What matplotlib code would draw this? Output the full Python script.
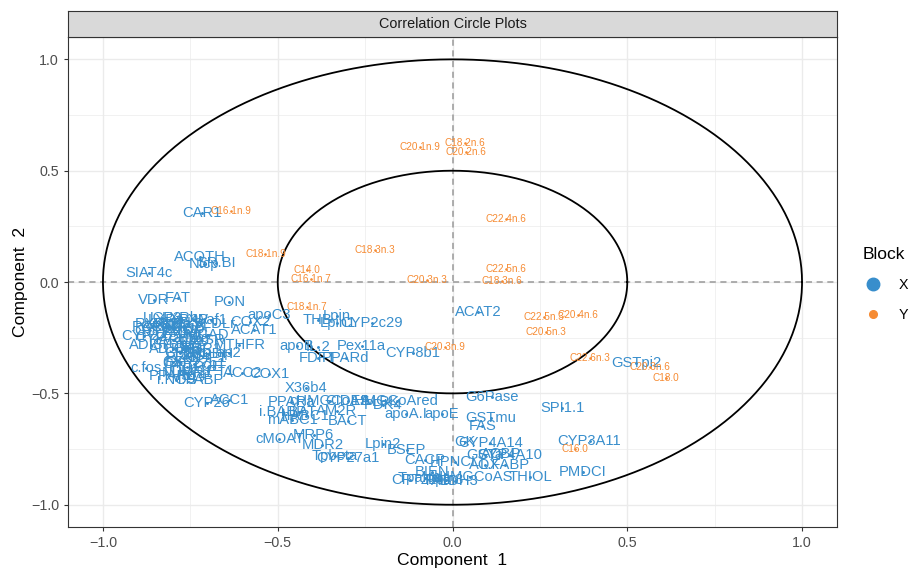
import numpy as np
import matplotlib.pyplot as plt
from matplotlib.lines import Line2D

plt.rcParams["font.family"] = ["Liberation Sans", "DejaVu Sans"]

# block X: gene expression variables (component 1, component 2)
genes = ["X36b4", "ACAT1", "ACAT2", "ACBP", "ACC1", "ACC2", "ACOTH", "ADISP", "ADSS1", "ALDH3",
         "AM2R", "AOX", "BACT", "BIEN", "BSEP", "Bcl.3", "C16SR", "CACP", "CAR1", "CBS",
         "CIDEA", "COX1", "COX2", "CPT2", "CYP24", "CYP26", "CYP27a1", "CYP27b1", "CYP2b10", "CYP2b13",
         "CYP2c29", "CYP3A11", "CYP4A10", "CYP4A14", "CYP7a", "CYP8b1", "FAS", "FAT", "FDFT", "FXR",
         "G6PDH", "G6Pase", "GK", "GS", "GSTa", "GSTmu", "GSTpi2", "HMGCoAred", "HPNCL", "IL.2",
         "L.FABP", "LCE", "LDLr", "LPK", "LPL", "LXRa", "LXRb", "Lpin", "Lpin1", "Lpin2",
         "Lpin3", "M.CPT1", "MCAD", "MDR1", "MDR2", "MRP6", "MS", "MTHFR", "NGFiB", "NURR1",
         "Ntcp", "OCTN2", "PAL", "PDK4", "PECI", "PLTP", "PMDCI", "PON", "PPARa", "PPARd",
         "PPARg", "PXR", "Pex11a", "RARa", "RARb2", "RXRa", "RXRb2", "RXRg1", "S14", "SHP1",
         "SIAT4c", "SPI1.1", "SR.BI", "THB", "THIOL", "TRa", "TRb", "Tpalpha", "Tpbeta", "UCP2",
         "UCP3", "VDR", "VLDLr", "Waf1", "ap2", "apoA.I", "apoB", "apoC3", "apoE", "c.fos",
         "cHMGCoAS", "cMOAT", "eif2g", "hABC1", "i.BABP", "i.BAT", "i.FABP", "i.NOS", "mABC1", "mHMGCoAS"]
genes_c1 = [-0.418, -0.567, 0.073, 0.140, -0.638, -0.601, -0.722, -0.862, -0.800, 0.007,
            -0.331, 0.093, -0.300, -0.059, -0.131, -0.760, -0.720, -0.079, -0.716, -0.780,
            -0.300, -0.524, -0.578, -0.122, -0.882, -0.702, -0.300, -0.740, -0.800, -0.820,
            -0.231, 0.392, 0.165, 0.108, -0.840, -0.113, 0.085, -0.785, -0.386, -0.780,
            -0.700, 0.113, 0.036, -0.800, 0.093, 0.110, 0.526, -0.160, 0.007, -0.386,
            0.151, -0.700, -0.780, -0.190, -0.740, -0.820, -0.780, -0.331, -0.329, -0.199,
            -0.020, -0.700, -0.700, -0.720, -0.372, -0.397, -0.740, -0.610, -0.770, -0.760,
            -0.710, -0.820, -0.040, -0.200, -0.770, -0.760, 0.372, -0.638, -0.461, -0.305,
            -0.800, -0.740, -0.260, -0.860, -0.800, -0.800, -0.840, -0.760, -0.740, -0.700,
            -0.868, 0.314, -0.676, -0.386, 0.222, -0.760, -0.730, -0.079, -0.337, -0.770,
            -0.830, -0.854, -0.680, -0.690, -0.640, -0.133, -0.446, -0.524, -0.030, -0.876,
            -0.351, -0.495, -0.740, -0.420, -0.486, -0.440, -0.720, -0.790, -0.458, 0.050]
genes_c2 = [-0.475, -0.215, -0.135, -0.770, -0.529, -0.410, 0.112, -0.283, -0.300, -0.892,
            -0.578, -0.821, -0.625, -0.852, -0.753, -0.190, -0.260, -0.798, 0.309, -0.320,
            -0.534, -0.413, -0.179, -0.888, -0.242, -0.543, -0.789, -0.370, -0.210, -0.220,
            -0.184, -0.713, -0.776, -0.722, -0.250, -0.318, -0.646, -0.072, -0.341, -0.360,
            -0.323, -0.516, -0.717, -0.360, -0.776, -0.610, -0.363, -0.534, -0.807, -0.291,
            -0.821, -0.380, -0.400, -0.540, -0.270, -0.170, -0.160, -0.152, -0.184, -0.726,
            -0.890, -0.400, -0.240, -0.300, -0.731, -0.686, -0.330, -0.283, -0.200, -0.410,
            0.081, -0.200, -0.890, -0.550, -0.340, -0.380, -0.852, -0.090, -0.538, -0.341,
            -0.420, -0.170, -0.287, -0.200, -0.260, -0.190, -0.190, -0.230, -0.420, -0.340,
            0.040, -0.565, 0.085, -0.170, -0.874, -0.290, -0.320, -0.879, -0.780, -0.300,
            -0.160, -0.081, -0.190, -0.170, -0.320, -0.592, -0.287, -0.148, -0.592, -0.386,
            -0.534, -0.704, -0.250, -0.600, -0.583, -0.585, -0.440, -0.440, -0.619, -0.874]

# block Y: fatty acid variables
lipids = ["C14.0", "C16.0", "C18.0", "C16.1n.9", "C16.1n.7", "C18.1n.9", "C18.1n.7",
          "C20.1n.9", "C20.3n.9", "C18.2n.6", "C18.3n.6", "C20.2n.6", "C20.3n.6", "C20.4n.6",
          "C22.4n.6", "C22.5n.6", "C18.3n.3", "C20.3n.3", "C20.5n.3", "C22.5n.3", "C22.6n.3"]
lipids_c1 = [-0.415, 0.351, 0.610, -0.635, -0.406, -0.535, -0.417,
             -0.093, -0.022, 0.036, 0.142, 0.039, 0.564, 0.360,
             0.154, 0.154, -0.222, -0.073, 0.268, 0.263, 0.392]
lipids_c2 = [0.054, -0.749, -0.430, 0.318, 0.013, 0.126, -0.112,
             0.605, -0.291, 0.623, 0.004, 0.583, -0.381, -0.148,
             0.283, 0.058, 0.143, 0.009, -0.224, -0.157, -0.341]

col_x = "#388ECC"
col_y = "#F68B33"

fig = plt.figure(figsize=(9.09, 5.69), dpi=100)
ax = fig.add_axes([0.0748, 0.0738, 0.846, 0.861])

ax.set_xlim(-1.1, 1.1)
ax.set_ylim(-1.1, 1.1)
ax.set_xticks([-1.0, -0.5, 0.0, 0.5, 1.0])
ax.set_yticks([-1.0, -0.5, 0.0, 0.5, 1.0])
ax.set_xticks([-0.75, -0.25, 0.25, 0.75], minor=True)
ax.set_yticks([-0.75, -0.25, 0.25, 0.75], minor=True)
ax.set_xticklabels(["\u22121.0", "\u22120.5", "0.0", "0.5", "1.0"])
ax.set_yticklabels(["\u22121.0", "\u22120.5", "0.0", "0.5", "1.0"])
ax.grid(True, which="major", color="#EBEBEB", lw=1.0, zorder=0)
ax.grid(True, which="minor", color="#EBEBEB", lw=0.5, zorder=0)
ax.tick_params(which="major", length=3, color="#333333", labelsize=10.3, labelcolor="#4D4D4D")
ax.tick_params(which="minor", length=0)
for s in ax.spines.values():
    s.set_color("#333333")
    s.set_linewidth(0.8)
ax.set_axisbelow(True)

ax.axhline(0, color="#999999", ls=(0, (4, 3)), lw=1.1, zorder=1)
ax.axvline(0, color="#999999", ls=(0, (4, 3)), lw=1.1, zorder=1)

theta = np.linspace(0, 2 * np.pi, 400)
for r in (1.0, 0.5):
    ax.plot(r * np.cos(theta), r * np.sin(theta), color="black", lw=1.3, zorder=2)

for name, a, b in zip(genes, genes_c1, genes_c2):
    ax.text(a, b, name, color=col_x, fontsize=10.6, ha="center", va="center", zorder=3)
ax.scatter(genes_c1, genes_c2, s=1.2, color=col_x, zorder=4)

for name, a, b in zip(lipids, lipids_c1, lipids_c2):
    ax.text(a, b, name, color=col_y, fontsize=7.2, ha="center", va="center", zorder=3)
ax.scatter(lipids_c1, lipids_c2, s=0.8, color=col_y, zorder=4)

ax.set_xlabel("Component  1", fontsize=12.6, labelpad=2)
ax.set_ylabel("Component  2", fontsize=12.6, labelpad=2)

# facet strip on top of the panel
strip = fig.add_axes([0.0748, 0.935, 0.846, 0.0457])
strip.set_facecolor("#D9D9D9")
strip.set_xticks([])
strip.set_yticks([])
for s in strip.spines.values():
    s.set_color("#333333")
    s.set_linewidth(0.8)
strip.text(0.5, 0.5, "Correlation Circle Plots", ha="center", va="center",
           fontsize=10.4, color="#1A1A1A", transform=strip.transAxes)

handles = [Line2D([], [], ls="none", marker="o", markersize=9, color=col_x, label="X"),
           Line2D([], [], ls="none", marker="o", markersize=5.5, color=col_y, label="Y")]
fig.legend(handles=handles, title="Block", loc="center left", bbox_to_anchor=(0.949, 0.5),
           frameon=False, fontsize=10.3, title_fontsize=12.6, borderpad=0, borderaxespad=0,
           handlelength=1.5, handletextpad=1.0, labelspacing=1.1, alignment="left")

fig.savefig("out.png", dpi=100)
